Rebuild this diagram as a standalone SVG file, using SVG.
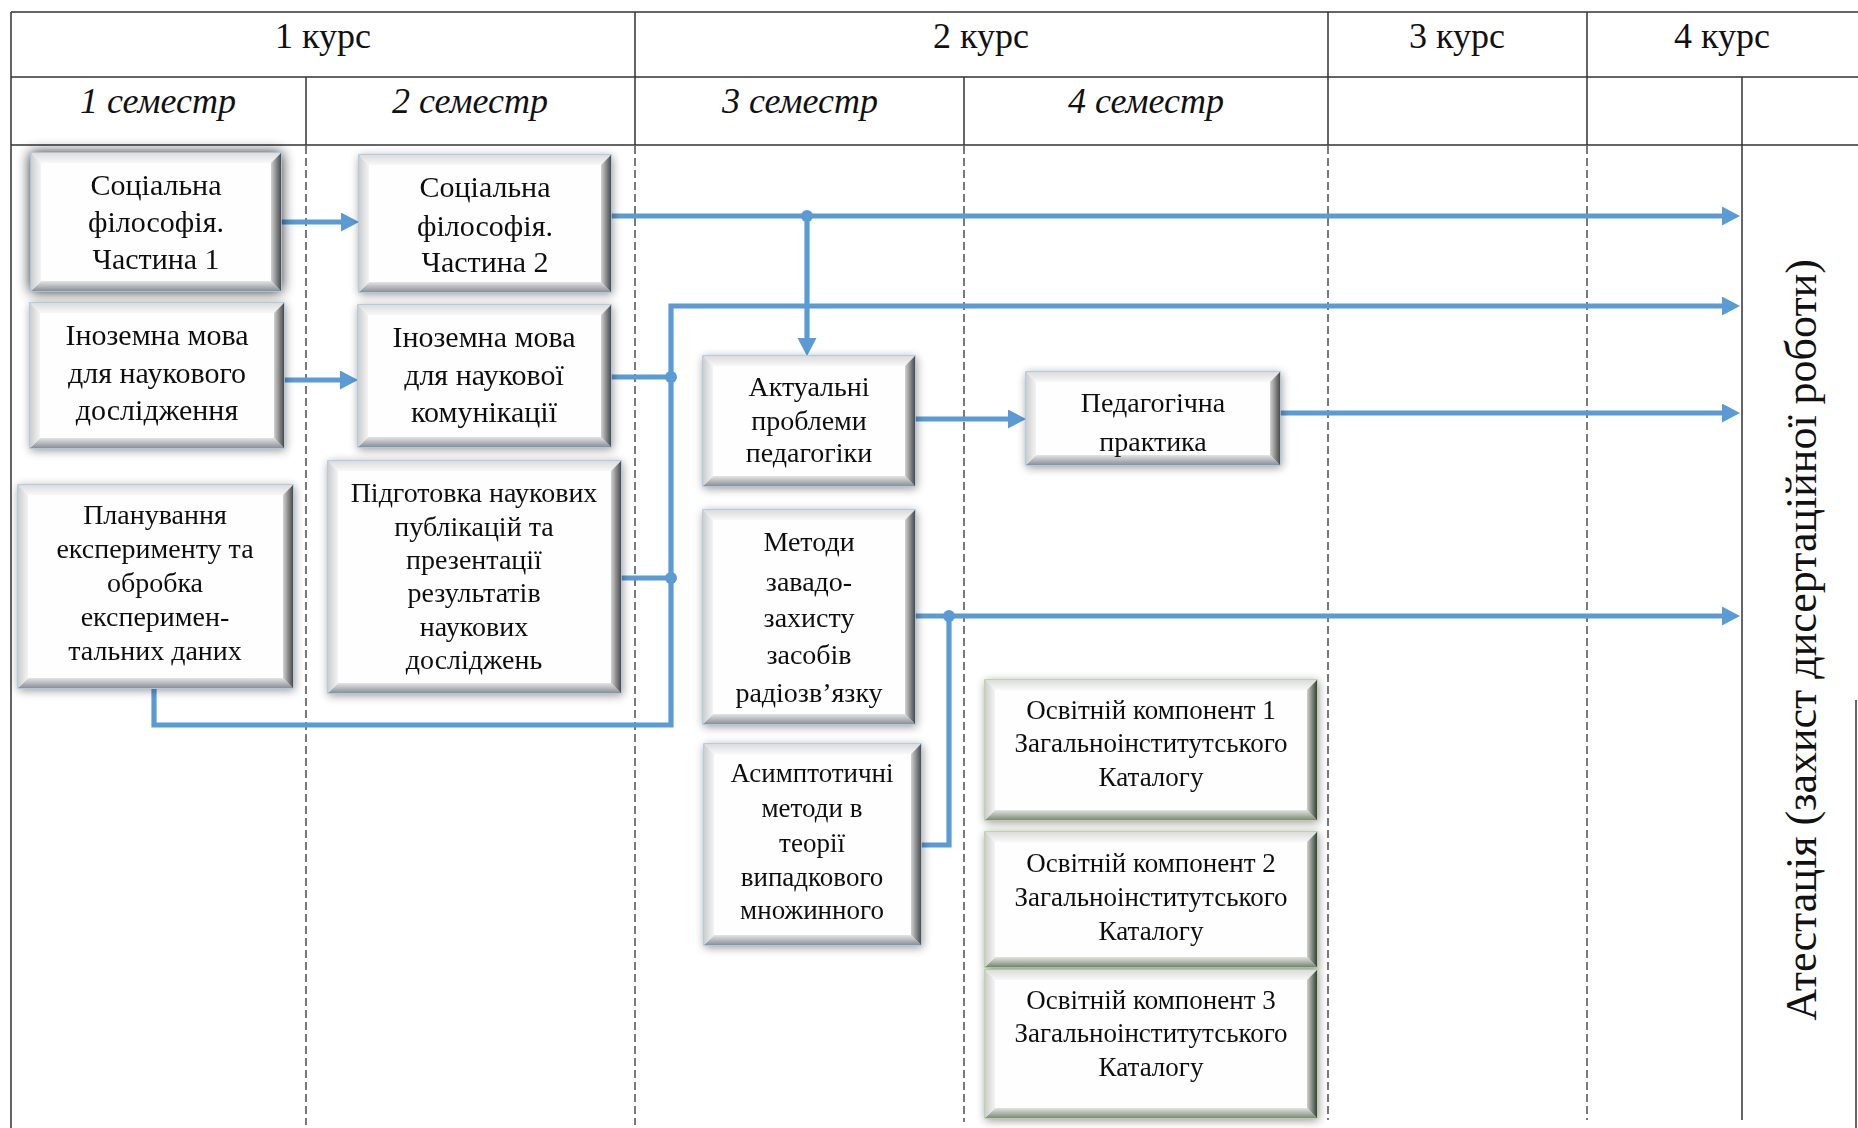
<svg xmlns="http://www.w3.org/2000/svg" width="1858" height="1128" viewBox="0 0 1858 1128">
<style>
.tl{stroke:#333;stroke-width:1.5;fill:none}
.ds{stroke:#333;stroke-width:1.3;stroke-dasharray:8 4;fill:none}
.hd{font-family:"Liberation Serif","Times New Roman",serif;font-size:36px;fill:#111;text-anchor:middle}
.sm{font-family:"Liberation Serif","Times New Roman",serif;font-size:36px;font-style:italic;fill:#111;text-anchor:middle}
.t30{font-family:"Liberation Serif","Times New Roman",serif;font-size:30px;fill:#111;text-anchor:middle}
.t28{font-family:"Liberation Serif","Times New Roman",serif;font-size:28px;fill:#111;text-anchor:middle}
.t27{font-family:"Liberation Serif","Times New Roman",serif;font-size:27px;fill:#111;text-anchor:middle}
.vt{font-family:"Liberation Serif","Times New Roman",serif;font-size:44px;fill:#111;text-anchor:middle}
.face{fill:#fefefe;stroke:#9dc3e6;stroke-width:1.5}
.faceg{fill:#fefefe;stroke:#a9d18e;stroke-width:1.5}
.bt{fill:url(#gTop)}
.bb{fill:url(#gBot)}
.bl{fill:url(#gLeft)}
.br{fill:url(#gRight)}
.bbg{fill:url(#gBotG)}
.brg{fill:url(#gRightG)}
.cn{stroke:#5b9bd5;stroke-width:5.2;fill:none}
.ar{marker-end:url(#ah)}
.dot{fill:#5b9bd5}
</style>
<defs>
<linearGradient id="gTop" x1="0" y1="0" x2="0" y2="1"><stop offset="0" stop-color="#dcdcdc"/><stop offset="1" stop-color="#f8f8f8"/></linearGradient>
<linearGradient id="gBot" x1="0" y1="0" x2="0" y2="1"><stop offset="0" stop-color="#e4e4e4"/><stop offset="1" stop-color="#8a8f98"/></linearGradient>
<linearGradient id="gLeft" x1="0" y1="0" x2="1" y2="0"><stop offset="0" stop-color="#cdcdcd"/><stop offset="1" stop-color="#f4f4f4"/></linearGradient>
<linearGradient id="gRight" x1="0" y1="0" x2="1" y2="0"><stop offset="0" stop-color="#d2d2d2"/><stop offset="1" stop-color="#4a4a4a"/></linearGradient>
<linearGradient id="gBotG" x1="0" y1="0" x2="0" y2="1"><stop offset="0" stop-color="#e2e4e0"/><stop offset="1" stop-color="#7f8a78"/></linearGradient>
<linearGradient id="gRightG" x1="0" y1="0" x2="1" y2="0"><stop offset="0" stop-color="#cfd2cc"/><stop offset="1" stop-color="#3a3f38"/></linearGradient>
<filter id="sh" x="-15%" y="-15%" width="130%" height="130%">
<feGaussianBlur in="SourceAlpha" stdDeviation="5"/><feOffset dx="1" dy="2"/>
<feComponentTransfer><feFuncA type="linear" slope="0.4"/></feComponentTransfer>
<feMerge><feMergeNode/><feMergeNode in="SourceGraphic"/></feMerge></filter>
<filter id="shA" x="-20%" y="-20%" width="140%" height="140%">
<feGaussianBlur in="SourceAlpha" stdDeviation="7"/><feOffset dx="0" dy="0"/>
<feComponentTransfer><feFuncA type="linear" slope="0.85"/></feComponentTransfer>
<feMerge><feMergeNode/><feMergeNode in="SourceGraphic"/></feMerge></filter>
<marker id="ah" markerUnits="userSpaceOnUse" markerWidth="20" markerHeight="20" refX="8" refY="9.5" orient="auto"><path d="M0,0 L18,9.5 L0,19 Z" fill="#5b9bd5"/></marker>
</defs>
<rect width="1858" height="1128" fill="#fff"/>
<g id="table">
<path class="tl" d="M11,12 H1858 M11,77 H1858 M11,145 H1858 M11,12 V1128 M635,12 V145 M1328,12 V145 M1587,12 V145 M306,77 V145 M964,77 V145 M1742,77 V1120 M1856,700 V1128"/>
<path class="ds" d="M306,146 V1125 M635,146 V1125 M964,146 V1122 M1328,146 V1120 M1587,146 V1120"/>
<text class="hd" x="323" y="48">1 курс</text>
<text class="hd" x="981" y="48">2 курс</text>
<text class="hd" x="1457" y="48">3 курс</text>
<text class="hd" x="1722" y="48">4 курс</text>
<text class="sm" x="158" y="113">1 семестр</text>
<text class="sm" x="470" y="113">2 семестр</text>
<text class="sm" x="800" y="113">3 семестр</text>
<text class="sm" x="1146" y="113">4 семестр</text>
<text class="vt" transform="translate(1816,640) rotate(-90)">Атестація (захист дисертаційної роботи)</text>
</g>
<g id="connectors">
<path class="cn ar" d="M281,222 H349"/>
<path class="cn ar" d="M284,380 H348"/>
<path class="cn ar" d="M611,216 H1730"/>
<path class="cn ar" d="M807,216 V346"/>
<path class="cn ar" d="M154,689 V725 H671 V306 H1730"/>
<path class="cn" d="M611,377 H671"/>
<path class="cn" d="M621,578 H671"/>
<path class="cn ar" d="M915,419 H1016"/>
<path class="cn ar" d="M1280,413 H1730"/>
<path class="cn ar" d="M915,616 H1730"/>
<path class="cn" d="M921,845 H949 V616"/>
<circle class="dot" cx="807" cy="216" r="6"/>
<circle class="dot" cx="671" cy="377" r="6"/>
<circle class="dot" cx="671" cy="578" r="6"/>
<circle class="dot" cx="949" cy="616" r="6"/>
</g>
<g id="n-sf1" filter="url(#shA)">
<rect class="face" x="31" y="153" width="250" height="138"/>
<path class="bt" d="M31,153 H281 L271,163 H41 Z"/><path class="bb" d="M31,291 H281 L271,281 H41 Z"/>
<path class="bl" d="M31,153 V291 L41,281 V163 Z"/><path class="br" d="M281,153 V291 L271,281 V163 Z"/>
<text class="t30"><tspan x="156" y="195">Соціальна</tspan><tspan x="156" y="232">філософія.</tspan><tspan x="156" y="269">Частина 1</tspan></text>
</g>
<g id="n-sf2" filter="url(#sh)">
<rect class="face" x="359" y="155" width="252" height="137"/>
<path class="bt" d="M359,155 H611 L601,165 H369 Z"/><path class="bb" d="M359,292 H611 L601,282 H369 Z"/>
<path class="bl" d="M359,155 V292 L369,282 V165 Z"/><path class="br" d="M611,155 V292 L601,282 V165 Z"/>
<text class="t30"><tspan x="485" y="197">Соціальна</tspan><tspan x="485" y="236">філософія.</tspan><tspan x="485" y="272">Частина 2</tspan></text>
</g>
<g id="n-lang1" filter="url(#sh)">
<rect class="face" x="30" y="303" width="254" height="145"/>
<path class="bt" d="M30,303 H284 L274,313 H40 Z"/><path class="bb" d="M30,448 H284 L274,438 H40 Z"/>
<path class="bl" d="M30,303 V448 L40,438 V313 Z"/><path class="br" d="M284,303 V448 L274,438 V313 Z"/>
<text class="t30"><tspan x="157" y="345">Іноземна мова</tspan><tspan x="157" y="383">для наукового</tspan><tspan x="157" y="420">дослідження</tspan></text>
</g>
<g id="n-lang2" filter="url(#sh)">
<rect class="face" x="358" y="305" width="253" height="142"/>
<path class="bt" d="M358,305 H611 L601,315 H368 Z"/><path class="bb" d="M358,447 H611 L601,437 H368 Z"/>
<path class="bl" d="M358,305 V447 L368,437 V315 Z"/><path class="br" d="M611,305 V447 L601,437 V315 Z"/>
<text class="t30"><tspan x="484" y="347">Іноземна мова</tspan><tspan x="484" y="385">для наукової</tspan><tspan x="484" y="422">комунікації</tspan></text>
</g>
<g id="n-plan" filter="url(#sh)">
<rect class="face" x="18" y="485" width="275" height="203"/>
<path class="bt" d="M18,485 H293 L283,495 H28 Z"/><path class="bb" d="M18,688 H293 L283,678 H28 Z"/>
<path class="bl" d="M18,485 V688 L28,678 V495 Z"/><path class="br" d="M293,485 V688 L283,678 V495 Z"/>
<text class="t28"><tspan x="155" y="524">Планування</tspan><tspan x="155" y="558">експерименту та</tspan><tspan x="155" y="592">обробка</tspan><tspan x="155" y="626">експеримен-</tspan><tspan x="155" y="660">тальних даних</tspan></text>
</g>
<g id="n-publ" filter="url(#sh)">
<rect class="face" x="328" y="461" width="293" height="232"/>
<path class="bt" d="M328,461 H621 L611,471 H338 Z"/><path class="bb" d="M328,693 H621 L611,683 H338 Z"/>
<path class="bl" d="M328,461 V693 L338,683 V471 Z"/><path class="br" d="M621,461 V693 L611,683 V471 Z"/>
<text class="t28"><tspan x="474" y="502">Підготовка наукових</tspan><tspan x="474" y="536">публікацій та</tspan><tspan x="474" y="569">презентації</tspan><tspan x="474" y="602">результатів</tspan><tspan x="474" y="636">наукових</tspan><tspan x="474" y="669">досліджень</tspan></text>
</g>
<g id="n-ped" filter="url(#sh)">
<rect class="face" x="703" y="356" width="212" height="130"/>
<path class="bt" d="M703,356 H915 L905,366 H713 Z"/><path class="bb" d="M703,486 H915 L905,476 H713 Z"/>
<path class="bl" d="M703,356 V486 L713,476 V366 Z"/><path class="br" d="M915,356 V486 L905,476 V366 Z"/>
<text class="t28"><tspan x="809" y="396">Актуальні</tspan><tspan x="809" y="430">проблеми</tspan><tspan x="809" y="462">педагогіки</tspan></text>
</g>
<g id="n-prakt" filter="url(#sh)">
<rect class="face" x="1026" y="372" width="254" height="93"/>
<path class="bt" d="M1026,372 H1280 L1270,382 H1036 Z"/><path class="bb" d="M1026,465 H1280 L1270,455 H1036 Z"/>
<path class="bl" d="M1026,372 V465 L1036,455 V382 Z"/><path class="br" d="M1280,372 V465 L1270,455 V382 Z"/>
<text class="t28"><tspan x="1153" y="412">Педагогічна</tspan><tspan x="1153" y="451">практика</tspan></text>
</g>
<g id="n-radio" filter="url(#sh)">
<rect class="face" x="703" y="510" width="212" height="214"/>
<path class="bt" d="M703,510 H915 L905,520 H713 Z"/><path class="bb" d="M703,724 H915 L905,714 H713 Z"/>
<path class="bl" d="M703,510 V724 L713,714 V520 Z"/><path class="br" d="M915,510 V724 L905,714 V520 Z"/>
<text class="t28"><tspan x="809" y="551">Методи</tspan><tspan x="809" y="591">завадо-</tspan><tspan x="809" y="627">захисту</tspan><tspan x="809" y="664">засобів</tspan><tspan x="809" y="702">радіозв’язку</tspan></text>
</g>
<g id="n-asym" filter="url(#sh)">
<rect class="face" x="704" y="744" width="217" height="201"/>
<path class="bt" d="M704,744 H921 L911,754 H714 Z"/><path class="bb" d="M704,945 H921 L911,935 H714 Z"/>
<path class="bl" d="M704,744 V945 L714,935 V754 Z"/><path class="br" d="M921,744 V945 L911,935 V754 Z"/>
<text class="t27"><tspan x="812" y="782">Асимптотичні</tspan><tspan x="812" y="817">методи в</tspan><tspan x="812" y="852">теорії</tspan><tspan x="812" y="886">випадкового</tspan><tspan x="812" y="919">множинного</tspan></text>
</g>
<g id="n-ok1" filter="url(#sh)">
<rect class="faceg" x="985" y="680" width="332" height="140"/>
<path class="bt" d="M985,680 H1317 L1307,690 H995 Z"/><path class="bbg" d="M985,820 H1317 L1307,810 H995 Z"/>
<path class="bl" d="M985,680 V820 L995,810 V690 Z"/><path class="brg" d="M1317,680 V820 L1307,810 V690 Z"/>
<text class="t27"><tspan x="1151" y="719">Освітній компонент 1</tspan><tspan x="1151" y="752">Загальноінститутського</tspan><tspan x="1151" y="786">Каталогу</tspan></text>
</g>
<g id="n-ok2" filter="url(#sh)">
<rect class="faceg" x="985" y="832" width="332" height="135"/>
<path class="bt" d="M985,832 H1317 L1307,842 H995 Z"/><path class="bbg" d="M985,967 H1317 L1307,957 H995 Z"/>
<path class="bl" d="M985,832 V967 L995,957 V842 Z"/><path class="brg" d="M1317,832 V967 L1307,957 V842 Z"/>
<text class="t27"><tspan x="1151" y="872">Освітній компонент 2</tspan><tspan x="1151" y="906">Загальноінститутського</tspan><tspan x="1151" y="940">Каталогу</tspan></text>
</g>
<g id="n-ok3" filter="url(#sh)">
<rect class="faceg" x="985" y="970" width="332" height="148"/>
<path class="bt" d="M985,970 H1317 L1307,980 H995 Z"/><path class="bbg" d="M985,1118 H1317 L1307,1108 H995 Z"/>
<path class="bl" d="M985,970 V1118 L995,1108 V980 Z"/><path class="brg" d="M1317,970 V1118 L1307,1108 V980 Z"/>
<text class="t27"><tspan x="1151" y="1009">Освітній компонент 3</tspan><tspan x="1151" y="1042">Загальноінститутського</tspan><tspan x="1151" y="1076">Каталогу</tspan></text>
</g>
</svg>
